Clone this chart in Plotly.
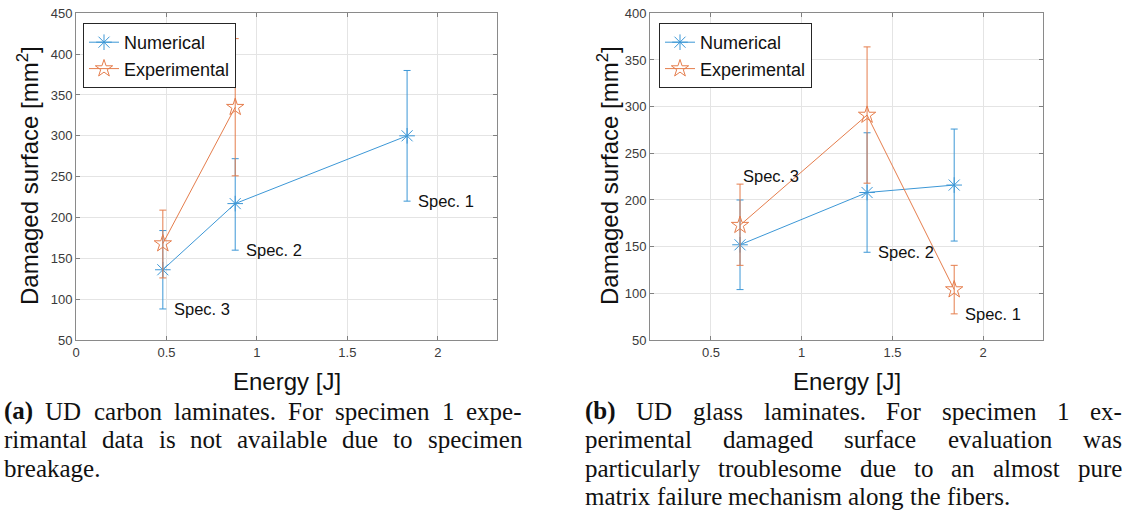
import plotly.graph_objects as go

W, H = 1133, 513

# ---- (a) UD carbon laminates ----
carbon_energy_num = [0.48, 0.88, 1.83]
carbon_area_num = [136, 217, 300]
carbon_num_low = [88, 160, 220]
carbon_num_high = [184, 272, 380]
carbon_energy_exp = [0.48, 0.88]
carbon_area_exp = [168, 335]
carbon_exp_low = [126, 251]
carbon_exp_high = [209, 419]
carbon_spec_labels = ["Spec. 3", "Spec. 2", "Spec. 1"]

# ---- (b) UD glass laminates ----
glass_energy_num = [0.66, 1.36, 1.84]
glass_area_num = [152, 208, 216]
glass_num_low = [104, 144, 156]
glass_num_high = [200, 272, 276]
glass_energy_exp = [0.66, 1.36, 1.84]
glass_area_exp = [173, 291, 104]
glass_exp_low = [130, 218, 78]
glass_exp_high = [217, 364, 130]
glass_spec_labels = ["Spec. 3", "Spec. 2", "Spec. 1"]

caption_a = [
    "<b>(a)</b> UD carbon laminates. For specimen 1 expe-",
    "rimantal data is not available due to specimen",
    "breakage.",
]
caption_b = [
    "<b>(b)</b> UD glass laminates. For specimen 1 ex-",
    "perimental damaged surface evaluation was",
    "particularly troublesome due to an almost pure",
    "matrix failure mechanism along the fibers.",
]

BLUE = "#3c97d6"
ORANGE = "#e57d4c"
SANS = "Liberation Sans, Arial, Helvetica, sans-serif"
SERIF = "Liberation Serif, Times New Roman, serif"


def px_x(p):
    return p / W


def px_y(p):
    return 1 - p / H


def err(y, low, high):
    return dict(type="data", symmetric=False,
                array=[h - v for v, h in zip(y, high)],
                arrayminus=[v - l for v, l in zip(y, low)],
                thickness=1, width=3.5)


fig = go.Figure()


def add_series(x, y, low, high, name, color, symbol, xa, ya, legend):
    fig.add_trace(go.Scatter(
        x=x, y=y, name=name, mode="lines+markers",
        line=dict(color=color, width=1),
        marker=dict(symbol=symbol, size=13, color=color,
                    line=dict(color=color, width=1)),
        error_y=dict(color=color, **err(y, low, high)),
        xaxis=xa, yaxis=ya, legend=legend,
    ))


add_series(carbon_energy_num, carbon_area_num, carbon_num_low, carbon_num_high,
           "Numerical", BLUE, "asterisk-open", "x", "y", "legend")
add_series(carbon_energy_exp, carbon_area_exp, carbon_exp_low, carbon_exp_high,
           "Experimental", ORANGE, "star-open", "x", "y", "legend")
add_series(glass_energy_num, glass_area_num, glass_num_low, glass_num_high,
           "Numerical", BLUE, "asterisk-open", "x2", "y2", "legend2")
add_series(glass_energy_exp, glass_area_exp, glass_exp_low, glass_exp_high,
           "Experimental", ORANGE, "star-open", "x2", "y2", "legend2")

axis_style = dict(
    showgrid=True, gridcolor="#e4e4e4", gridwidth=1,
    ticks="inside", ticklen=4, tickcolor="#808080",
    showline=True, linecolor="#8a8a8a", linewidth=1, mirror="ticks",
    zeroline=False, automargin=False,
    tickfont=dict(family=SANS, size=13, color="#3a3a3a"),
)

x_ticks_a = [0, 0.5, 1, 1.5, 2]
x_ticks_b = [0.5, 1, 1.5, 2]

legend_style = dict(yanchor="top", xanchor="left", y=px_y(23),
                    bgcolor="white", bordercolor="#262626", borderwidth=1,
                    font=dict(family=SANS, size=18, color="#111111"),
                    tracegroupgap=0, itemwidth=30)

fig.update_layout(
    width=W, height=H, autosize=False,
    margin=dict(l=0, r=0, t=0, b=0),
    paper_bgcolor="white", plot_bgcolor="white",
    font=dict(family=SANS),
    xaxis=dict(domain=[px_x(76), px_x(497)], range=[0, 2.327],
               tickvals=x_ticks_a, ticktext=[f"{v:g}" for v in x_ticks_a],
               anchor="y", **axis_style),
    yaxis=dict(domain=[px_y(340), px_y(13.3)], range=[50, 450], dtick=50,
               anchor="x", **axis_style),
    xaxis2=dict(domain=[px_x(650), px_x(1043.3)], range=[0.164, 2.331],
                tickvals=x_ticks_b, ticktext=[f"{v:g}" for v in x_ticks_b],
                anchor="y2", **axis_style),
    yaxis2=dict(domain=[px_y(340), px_y(13.3)], range=[50, 400], dtick=50,
                anchor="x2", **axis_style),
    legend=dict(x=px_x(83), **legend_style),
    legend2=dict(x=px_x(659), **legend_style),
    showlegend=True,
)

annotations = []

# specimen labels, placed just right of each point
label_font = dict(family=SANS, size=16.5, color="#111111")
for e, low, txt in zip(carbon_energy_num, carbon_num_low, carbon_spec_labels):
    annotations.append(dict(x=e + 0.05, y=low, xref="x", yref="y", text=txt,
                            showarrow=False, xanchor="left", yanchor="middle",
                            font=label_font))
glass_label_pos = [
    (glass_energy_exp[0] + 0.005, glass_exp_high[0] + 9),
    (glass_energy_num[1] + 0.05, glass_num_low[1]),
    (glass_energy_exp[2] + 0.05, glass_exp_low[2]),
]
for (lx, ly), txt in zip(glass_label_pos, glass_spec_labels):
    annotations.append(dict(x=lx, y=ly, xref="x2", yref="y2", text=txt,
                            showarrow=False, xanchor="left", yanchor="middle",
                            font=label_font))

# axis titles
title_font = dict(family=SANS, size=24, color="#111111")
for cx in [(76 + 497) / 2, (650 + 1043.3) / 2]:
    annotations.append(dict(x=px_x(cx), y=px_y(381), xref="paper", yref="paper",
                            text="Energy [J]", showarrow=False,
                            xanchor="center", yanchor="middle", font=title_font))
for cx in [28, 608]:
    annotations.append(dict(x=px_x(cx), y=px_y(176), xref="paper", yref="paper",
                            text="Damaged surface [mm<sup>2</sup>]",
                            showarrow=False, textangle=-90,
                            xanchor="center", yanchor="middle", font=title_font))

# justified captions set word by word (Times-compatible advance widths, 1/1000 em)
REG = dict(zip("abcdefghijklmnopqrstuvwxyz",
               [444, 500, 444, 500, 444, 333, 500, 500, 278, 278, 500, 278, 778,
                500, 500, 500, 500, 333, 389, 278, 500, 500, 722, 500, 500, 444]))
REG.update({"D": 722, "F": 556, "U": 722, " ": 250, ".": 250, "-": 333,
            "(": 333, ")": 333, "1": 500})
BOLD = {"(": 333, ")": 333, "a": 500, "b": 556}
CAP_SIZE = 25


def word_width(word):
    if word.startswith("<b>"):
        plain = word[3:-4]
        return sum(BOLD.get(c, 556) for c in plain) * CAP_SIZE / 1000
    return sum(REG.get(c, 500) for c in word) * CAP_SIZE / 1000


def set_caption(lines, x0, x1, y0, dy):
    for i, line in enumerate(lines):
        words = line.split(" ")
        widths = [word_width(w) for w in words]
        last = i == len(lines) - 1
        if last or len(words) < 2:
            gap = REG[" "] * CAP_SIZE / 1000
        else:
            gap = (x1 - x0 - sum(widths)) / (len(words) - 1)
        cur = x0
        for w, wd in zip(words, widths):
            annotations.append(dict(x=px_x(cur), y=px_y(y0 + i * dy),
                                    xref="paper", yref="paper", text=w,
                                    showarrow=False, xanchor="left",
                                    yanchor="middle", borderpad=0,
                                    font=dict(family=SERIF, size=CAP_SIZE,
                                              color="#111111")))
            cur += wd + gap


set_caption(caption_a, 3, 521, 411, 28.5)
set_caption(caption_b, 584, 1121, 411, 28.5)

fig.update_layout(annotations=annotations)
fig.write_html("out.html")
